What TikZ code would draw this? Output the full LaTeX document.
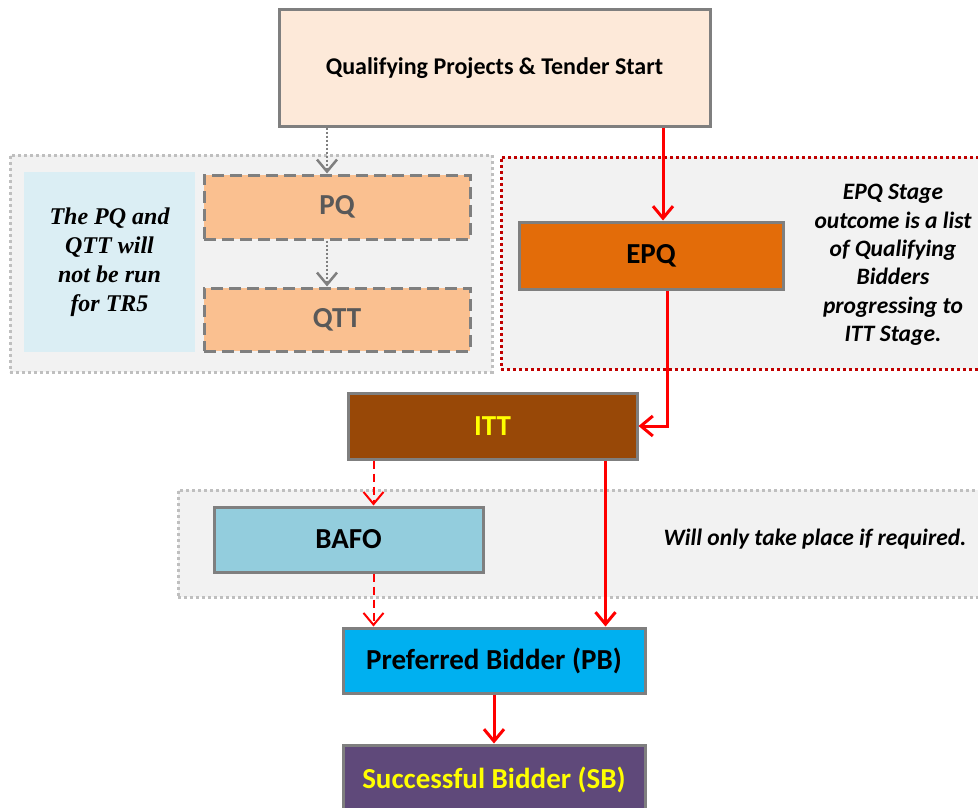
\documentclass[tikz,border=0pt]{standalone}
\usepackage{fontspec}
\setmainfont{Carlito}
\newfontfamily\serifnote{Liberation Serif}
\usetikzlibrary{arrows.meta}
\usetikzlibrary{calc}

\definecolor{boxgray}{HTML}{7F7F7F}
\definecolor{textgray}{HTML}{595959}
\definecolor{panelgray}{HTML}{F2F2F2}
\definecolor{dotgray}{HTML}{BFBFBF}
\definecolor{dotred}{HTML}{C00000}
\definecolor{arrowred}{HTML}{FF0000}
\definecolor{startfill}{HTML}{FDE9D9}
\definecolor{notefill}{HTML}{DBEEF4}
\definecolor{pqfill}{HTML}{FAC090}
\definecolor{epqfill}{HTML}{E36C09}
\definecolor{ittfill}{HTML}{984807}
\definecolor{bafofill}{HTML}{93CDDD}
\definecolor{pbfill}{HTML}{00B0F0}
\definecolor{sbfill}{HTML}{5F497A}
\definecolor{ittext}{HTML}{FFFF00}

\begin{document}
\begin{tikzpicture}[x=1pt,y=-1pt,
  > = {Straight Barb[length=12pt,width=20pt]},
  box/.style = {draw=boxgray, line width=3pt, inner sep=0pt, font=\fontsize{29}{32}\selectfont\bfseries},
  ghostbox/.style = {box, fill=pqfill, text=textgray, dash pattern=on 12pt off 6pt},
  panel/.style = {fill=panelgray, draw=dotgray, line width=3pt, dash pattern=on 3pt off 3pt, inner sep=0pt},
  redpanel/.style = {panel, draw=dotred},
  flow/.style = {->, draw=arrowred, line width=3pt},
  maybe/.style = {->, draw=arrowred, line width=2pt, dash pattern=on 8pt off 5pt},
  skip/.style = {->, draw=boxgray, line width=2.5pt, dash pattern=on 2pt off 2pt},
  note/.style = {align=center, font=\fontsize{23.5}{28.4}\selectfont\bfseries\itshape}
  ]
	\useasboundingbox[fill=white] (0,0) rectangle (978,808);

	% grouped stages
	\node[panel, minimum width=482, minimum height=217] (skipped) at (251,263.5) {};
	\node[redpanel, minimum width=484, minimum height=212] (epqpanel) at (743,263) {};
	\node[panel, minimum width=807, minimum height=107] (bafopanel) at (581.5,543.5) {};

	\node[box, fill=startfill, minimum width=431, minimum height=116, font=\fontsize{24}{28}\selectfont\bfseries] (start) at (494.5,68) {Qualifying Projects \& Tender Start};

	\node[fill=notefill, minimum width=171, minimum height=180, align=center,
	      font=\fontsize{24}{29}\selectfont\serifnote\bfseries\itshape] (tr5note) at (109.5,262)
	      {The PQ and\\QTT will\\not be run\\for TR5};
	\node[ghostbox, minimum width=266, minimum height=64] (pq) at (337,207) {PQ};
	\node[ghostbox, minimum width=266, minimum height=63] (qtt) at (337,319.5) {QTT};

	\node[box, fill=epqfill, minimum width=264, minimum height=67] (epq) at (651,255.5) {EPQ};
	\node[note] (epqnote) at (893,265) {EPQ Stage\\outcome is a list\\of Qualifying\\Bidders\\progressing to\\ITT Stage.};

	\node[box, fill=ittfill, text=ittext, minimum width=289, minimum height=66] (itt) at (492.5,426) {ITT};

	\node[box, fill=bafofill, minimum width=269, minimum height=65] (bafo) at (348.5,539.5) {BAFO};
	\node[note] (bafonote) at (815,539) {Will only take place if required.};

	\node[box, fill=pbfill, minimum width=302, minimum height=65] (pb) at (494,660.5) {Preferred Bidder (PB)};
	\node[box, fill=sbfill, text=ittext, minimum width=302, minimum height=70] (sb) at (494,780) {Successful Bidder (SB)};

	% connectors
	\draw[skip] ([xshift=-10pt]pq.north |- start.south) -- ([xshift=-10pt]pq.north);
	\draw[skip] ([xshift=-10pt]pq.south) -- ([xshift=-10pt]qtt.north);
	\draw[flow] ([xshift=12pt]epq.north |- start.south) -- ([xshift=12pt]epq.north);
	\draw[flow] ([xshift=16pt]epq.south) |- (itt.east);
	\draw[maybe] ([xshift=27pt]itt.south west) -- ([xshift=27pt]itt.south west |- bafo.north);
	\draw[maybe] ([xshift=161pt]bafo.south west) -- ([xshift=161pt]bafo.south west |- pb.north);
	\draw[flow] ([xshift=-33pt]itt.south east) -- ([xshift=-33pt]itt.south east |- pb.north);
	\draw[flow] (pb.south) -- (sb.north);

\end{tikzpicture}
\end{document}
